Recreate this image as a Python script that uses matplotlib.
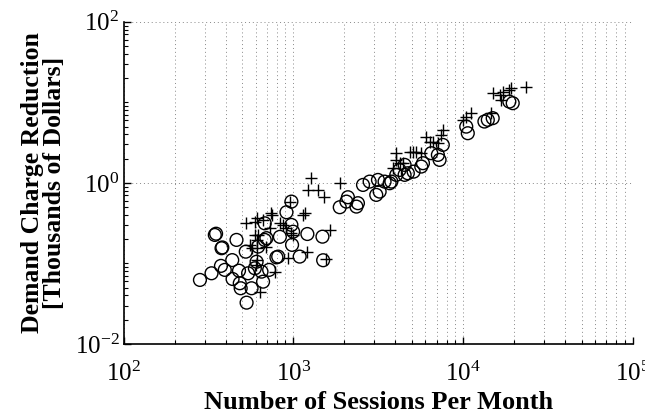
import matplotlib
matplotlib.use("Agg")
import matplotlib.pyplot as plt
from matplotlib.ticker import LogLocator, NullFormatter

plt.rcParams['font.family'] = ['Liberation Serif', 'DejaVu Serif']
plt.rcParams['mathtext.fontset'] = 'custom'
plt.rcParams['mathtext.rm'] = 'Liberation Serif'
plt.rcParams['mathtext.it'] = 'Liberation Serif:italic'
plt.rcParams['mathtext.bf'] = 'Liberation Serif:bold'

# Circle series (sessions per month, demand charge reduction in k$)
circle_x = [282, 330, 375, 395, 345, 351, 378, 382, 437, 463,
            525, 479, 439, 484, 490, 531, 568, 542, 608, 594,
            650, 664, 721, 679, 621, 679, 796, 834, 912, 975,
            975, 984, 998, 1091, 1211, 1486, 1500, 695, 815, 1879,
            2099, 2404, 2355, 2056, 2576, 2818, 3155, 3451, 3698, 3228,
            3083, 3784, 4046, 4227, 4529, 4529, 4732, 5117, 5675, 5808,
            6501, 7112, 7278, 7603, 10450, 10670, 13370, 14000, 14960, 18750,
            19630]
circle_y = [0.0624, 0.0755, 0.0933, 0.0832, 0.226, 0.234, 0.1545, 0.158, 0.110, 0.196,
            0.140, 0.0813, 0.0641, 0.0568, 0.0492, 0.0326, 0.0492, 0.0755, 0.105, 0.0871,
            0.0791, 0.0594, 0.0832, 0.196, 0.162, 0.315, 0.119, 0.214, 0.432, 0.586,
            0.301, 0.170, 0.248, 0.1216, 0.232, 0.215, 0.1096, 0.206, 0.1216, 0.499,
            0.664, 0.560, 0.508, 0.586, 0.944, 1.038, 1.089, 1.038, 0.991, 0.780,
            0.710, 1.038, 1.259, 1.449, 1.259, 1.675, 1.318, 1.380, 1.596, 1.758,
            2.339, 2.228, 1.932, 2.965, 5.000, 4.140, 5.781, 6.067, 6.368, 10.23,
            9.772]

# Plus series
plus_x = [525, 594, 608, 738, 745, 834, 871, 955, 1169, 1222,
          1279, 1400, 1510, 1897, 1641, 1552, 1205, 931, 778, 635,
          608, 568, 608, 695, 998, 664, 621, 912, 594, 554,
          608, 728, 975, 1143, 607, 3864, 4046, 4046, 4227, 4426,
          4842, 5070, 5309, 5675, 6081, 6353, 6637, 7112, 7447, 7603,
          9977, 10450, 11170, 14660, 14960, 16410, 16790, 17140, 18750, 19230,
          23550]
plus_y = [0.315, 0.330, 0.364, 0.420, 0.400, 0.315, 0.301, 0.586, 0.420, 0.818,
          1.143, 0.818, 0.664, 1.009, 0.261, 0.1127, 0.140, 0.116, 0.0791, 0.0447,
          0.110, 0.1545, 0.196, 0.162, 0.226, 0.347, 0.226, 0.274, 0.226, 0.170,
          0.1545, 0.274, 0.237, 0.400, 0.0962, 1.524, 1.932, 2.339, 1.758, 1.758,
          2.449, 2.449, 2.449, 2.339, 3.758, 3.258, 3.258, 3.112, 3.945, 4.550,
          6.067, 6.668, 7.345, 7.345, 13.00, 12.39, 10.74, 13.61, 14.29, 15.0,
          15.70]

x_limits = [1e2, 1e5]
y_limits = [1e-2, 1e2]

fig = plt.figure(figsize=(6.45, 4.2), dpi=100)
ax = fig.add_axes([0.1915, 0.181, 0.7895, 0.767])

ax.scatter(circle_x, circle_y, s=85, facecolors='none', edgecolors='black',
           linewidths=1.0, marker='o', zorder=3)
ax.scatter(plus_x, plus_y, s=85, c='black', linewidths=1.0, marker='+', zorder=3)

ax.set_xscale('log')
ax.set_yscale('log')
ax.set_xlim(x_limits)
ax.set_ylim(y_limits)

ax.xaxis.set_major_locator(LogLocator(base=10, numticks=10))
ax.xaxis.set_minor_locator(LogLocator(base=10, subs=range(2, 10), numticks=20))
ax.set_yticks([1e-2, 1e0, 1e2])
ax.yaxis.set_minor_locator(LogLocator(base=10, subs=range(1, 10), numticks=20))
ax.xaxis.set_minor_formatter(NullFormatter())
ax.yaxis.set_minor_formatter(NullFormatter())

ax.grid(True, which='major', axis='both', linestyle=(0, (1, 3)), color='#888888', linewidth=0.7)
ax.grid(True, which='minor', axis='x', linestyle=(0, (1, 3)), color='#888888', linewidth=0.7)

for side in ['top', 'right']:
    ax.spines[side].set_visible(False)
ax.spines['left'].set_linewidth(1.2)
ax.spines['bottom'].set_linewidth(1.2)

ax.tick_params(which='major', direction='in', length=5, width=1.0, labelsize=18)
ax.tick_params(which='minor', direction='in', length=3, width=0.8)
ax.tick_params(axis='x', which='both', top=False, pad=13)
ax.tick_params(axis='y', which='both', right=False, pad=3)

ax.set_xlabel('Number of Sessions Per Month', fontsize=19, fontweight='bold', labelpad=3)
ax.set_ylabel('Demand Charge Reduction\n[Thousands of Dollars]', fontsize=18.5,
              fontweight='bold', labelpad=6, linespacing=0.95)

fig.savefig('out.png', dpi=100)
